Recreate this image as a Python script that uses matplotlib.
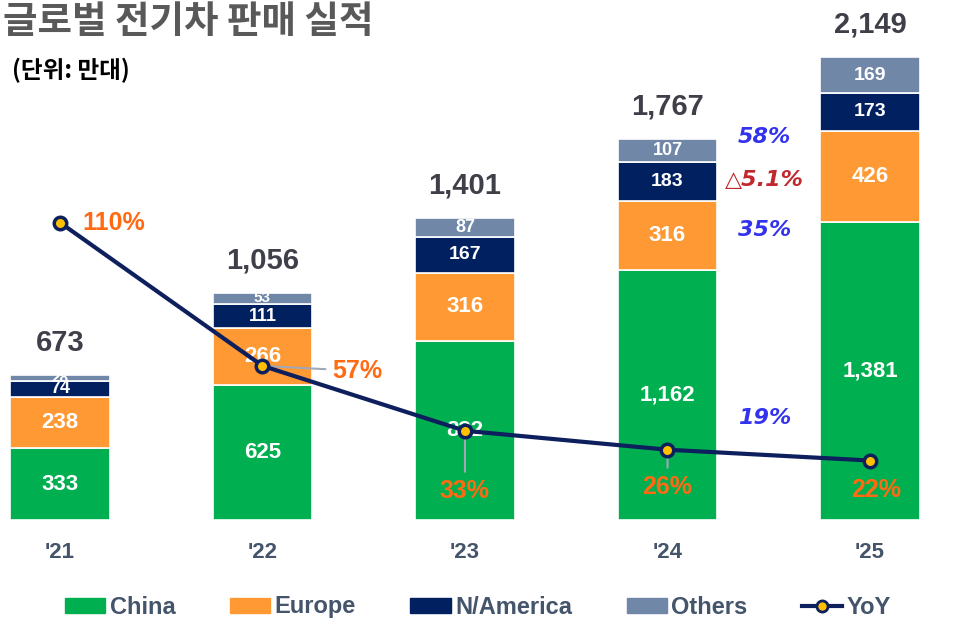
import matplotlib
matplotlib.use('Agg')
import matplotlib.pyplot as plt
from matplotlib.patches import Patch
from matplotlib.lines import Line2D
import numpy as np

plt.rcParams['font.family'] = ['Liberation Sans', 'Noto Sans CJK KR', 'DejaVu Sans']

# data (만대)
years = ["'21", "'22", "'23", "'24", "'25"]
china = [333, 625, 832, 1162, 1381]
europe = [238, 266, 316, 316, 426]
namerica = [74, 111, 167, 183, 173]
others = [28, 53, 87, 107, 169]
totals = ['673', '1,056', '1,401', '1,767', '2,149']
yoy = [110, 57, 33, 26, 22]
yoy_labels = ['110%', '57%', '33%', '26%', '22%']

# growth notes '24 -> '25
notes = ['58%', '△5.1%', '35%', '19%']
note_vals = [1777, 1578, 1346, 473]
note_colors = ['#3333EE', '#C0282D', '#3333EE', '#3333EE']

c_china = '#00B050'
c_europe = '#FF9933'
c_nam = '#002060'
c_oth = '#7087A8'
c_line = '#0D1F5C'
c_orange = '#FF6A13'
c_text = '#44546A'

fig = plt.figure(figsize=(9.66, 6.21), dpi=100)
ax = fig.add_axes([0, 0.1626, 1, 0.773])
x = np.arange(len(years))
w = 0.49

series = [(china, c_china), (europe, c_europe), (namerica, c_nam), (others, c_oth)]
bottom = np.zeros(len(years))
for k, (vals, col) in enumerate(series):
    vals = np.array(vals)
    ax.bar(x, vals, w, bottom=bottom, color=col, edgecolor='white', linewidth=1.2)
    for i, v in enumerate(vals):
        if k < 2:
            fs = 16
        elif v < 60:
            fs = 11
        elif v < 120:
            fs = 13
        else:
            fs = 14
        ax.text(x[i], bottom[i] + v / 2, f'{v:,}', ha='center', va='center',
                color='white', fontsize=fs, fontweight='bold')
    bottom = bottom + vals

for i, t in enumerate(totals):
    ax.text(x[i], bottom[i] + 85, t, ha='center', va='bottom', color='#3F3F4A',
            fontsize=21, fontweight='bold')

ax.set_xlim(-0.296, 4.474)
ax.set_ylim(0, 2227)
ax.axis('off')

for i, y in enumerate(years):
    fig.text(x[i] * 202.5 / 966 + 60 / 966, 1 - 552 / 621, y, ha='center', va='center',
             color=c_text, fontsize=16, fontweight='bold')

ax2 = ax.twinx()
ax2.set_ylim(0, 177.5)
ax2.axis('off')
ax2.plot(x, yoy, color=c_line, linewidth=3, marker='o', markersize=9,
         markerfacecolor='#FFC000', markeredgecolor=c_line, markeredgewidth=2.5, zorder=5)

offsets = [(22, 0), (95, -5), (0, -60), (0, -37), (6, -29)]
for i, lab in enumerate(yoy_labels):
    dx, dy = offsets[i]
    ha = 'left' if i == 0 else 'center'
    if i in (1, 2, 3):
        ax2.annotate(lab, (x[i], yoy[i]), xytext=(dx, dy), textcoords='offset pixels',
                     ha=ha, va='center', color=c_orange, fontsize=18, fontweight='bold',
                     arrowprops=dict(arrowstyle='-', color='#A0A8B8', lw=1.5,
                                     shrinkA=3, shrinkB=5), zorder=4)
    else:
        ax2.annotate(lab, (x[i], yoy[i]), xytext=(dx, dy), textcoords='offset pixels',
                     ha=ha, va='center', color=c_orange, fontsize=18, fontweight='bold')

for t, v, c in zip(notes, note_vals, note_colors):
    ax.text(3.48, v, t, ha='center', va='center', color=c, fontsize=16,
            fontweight='bold', fontstyle='italic', family=['DejaVu Sans'])

fig.text(0.003, 1 - 22 / 621, '글로벌 전기차 판매 실적', ha='left', va='center',
         color='#595959', fontsize=27, fontweight='bold', family=['Noto Sans CJK KR'])
fig.text(0.012, 1 - 70 / 621, '(단위: 만대)', ha='left', va='center',
         color='black', fontsize=17, fontweight='bold', family=['Noto Sans CJK KR'])

handles = [Patch(color=c_china), Patch(color=c_europe), Patch(color=c_nam), Patch(color=c_oth),
           Line2D([0], [0], color=c_line, linewidth=3, marker='o', markersize=8,
                  markerfacecolor='#FFC000', markeredgecolor=c_line, markeredgewidth=2)]
leg = fig.legend(handles, ['China', 'Europe', 'N/America', 'Others', 'YoY'], ncol=5,
                 loc='center', bbox_to_anchor=(0.495, 1 - 607 / 621), frameon=False,
                 fontsize=17, handlelength=1.7, handleheight=0.6, handletextpad=0.2,
                 columnspacing=2.3)
for t in leg.get_texts():
    t.set_color(c_text)
    t.set_fontweight('bold')

fig.savefig('out.png', dpi=100)
